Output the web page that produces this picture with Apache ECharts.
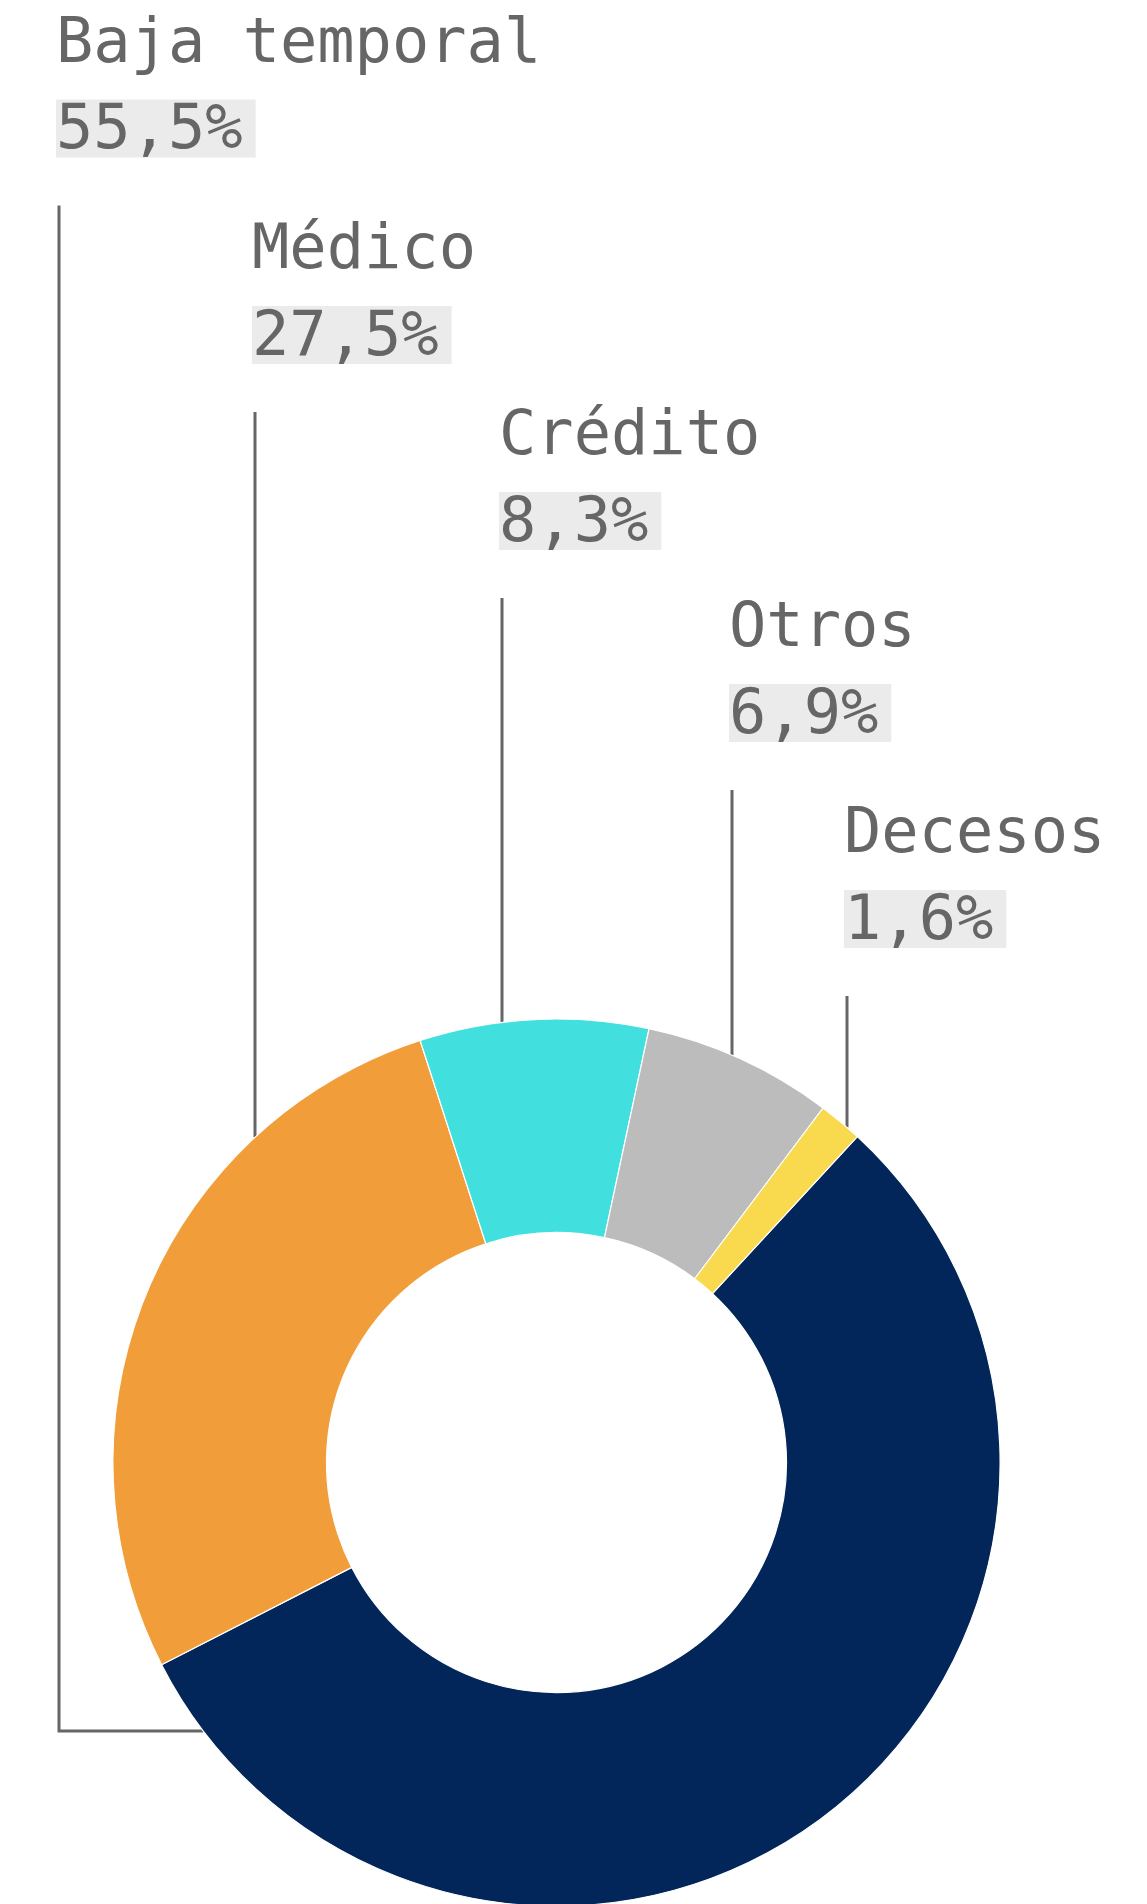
<!DOCTYPE html>
<html>
<head>
<meta charset="utf-8">
<script src="https://cdn.jsdelivr.net/npm/echarts@6/dist/echarts.min.js"></script>
<style>
  html, body { margin: 0; padding: 0; background: #ffffff; }
  #chart { width: 1147px; height: 1904px; }
</style>
</head>
<body>
<div id="chart"></div>
<script>
// Share of premiums by line of business (%)
const categories = ['Baja temporal', 'Médico', 'Crédito', 'Otros', 'Decesos'];
const shares = [55.5, 27.5, 8.3, 6.9, 1.6];
const sliceColors = ['#03265a', '#f19e3a', '#42dfdf', '#bcbcbc', '#f9d94d'];

// Donut geometry, in pixels
const CX = 556.5, CY = 1462.6, R_OUT = 443.6, R_IN = 230;

// Top-left corner of each value box; labels are stacked in a staircase
const labelAnchors = [[56, 99.5], [252, 306], [499, 492], [729, 684], [844, 890]];
const BOX_H = 58;        // height of the grey value box
const BOX_PAD_TOP = 7;   // nudges the value text down inside its box
const NAME_LH = 108;     // line box of the category name
const LINE_GAP = 48;     // space between value box and leader line
const ELBOW_Y = 1731;    // leader lines left of the ring turn here
const FONT = '"DejaVu Sans Mono", "Liberation Mono", monospace';
const FONT_SIZE = 62;

function fmtPct(v) {
  return v.toFixed(1).replace('.', ',') + '%';
}

// Point where a vertical (or horizontal) leader meets the outer rim
function rimYAt(x) {
  return CY - Math.sqrt(R_OUT * R_OUT - (x - CX) * (x - CX));
}
function rimXAt(y) {
  return CX - Math.sqrt(R_OUT * R_OUT - (y - CY) * (y - CY));
}

const chart = echarts.init(document.getElementById('chart'), null, { renderer: 'canvas' });

chart.setOption({
  backgroundColor: '#ffffff',
  animation: false,
  series: [{
    type: 'pie',
    silent: true,
    center: [CX, CY],
    radius: [R_IN, R_OUT],
    startAngle: 47.3,
    clockwise: true,
    avoidLabelOverlap: false,
    itemStyle: { borderColor: '#ffffff', borderWidth: 1.2 },
    data: categories.map((name, i) => ({
      name: name,
      value: shares[i],
      itemStyle: { color: sliceColors[i] }
    })),
    label: {
      show: true,
      position: 'outside',
      formatter: p => '{n|' + p.name + '}\n{v|' + fmtPct(p.value) + '}',
      rich: {
        n: { fontFamily: FONT, fontSize: FONT_SIZE, color: '#666666', lineHeight: NAME_LH },
        v: {
          fontFamily: FONT, fontSize: FONT_SIZE, color: '#666666',
          lineHeight: BOX_H, height: BOX_H - BOX_PAD_TOP,
          backgroundColor: '#ebebeb', padding: [BOX_PAD_TOP, 13, 0, 0]
        }
      }
    },
    labelLine: {
      show: true,
      smooth: false,
      lineStyle: { color: '#666666', width: 3 }
    },
    labelLayout: function (params) {
      const a = labelAnchors[params.dataIndex];
      const lineX = a[0] + 3;
      const topY = a[1] + BOX_H + LINE_GAP;
      let points;
      if (Math.abs(lineX - CX) >= R_OUT) {
        points = [[rimXAt(ELBOW_Y), ELBOW_Y], [lineX, ELBOW_Y], [lineX, topY]];
      } else {
        const y0 = rimYAt(lineX);
        points = [[lineX, y0], [lineX, (y0 + topY) / 2], [lineX, topY]];
      }
      return {
        x: a[0],
        y: a[1] - NAME_LH,
        align: 'left',
        verticalAlign: 'top',
        labelLinePoints: points
      };
    }
  }]
});
</script>
</body>
</html>
